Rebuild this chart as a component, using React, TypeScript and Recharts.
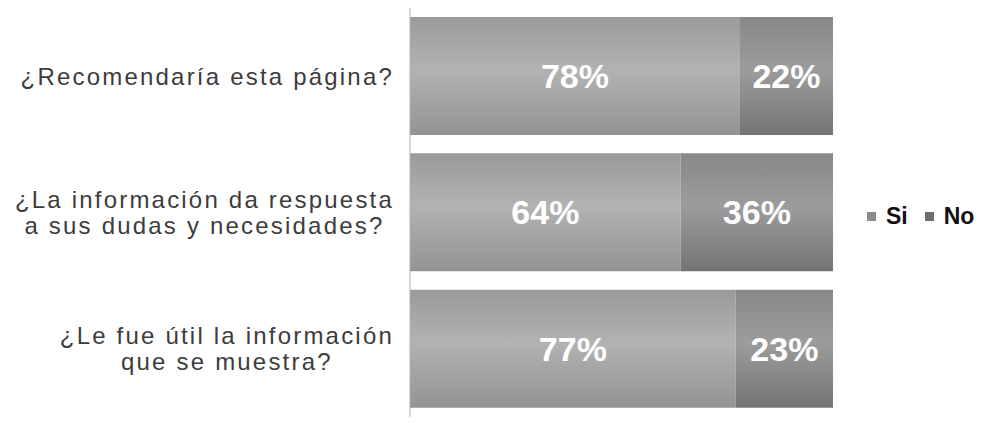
import { BarChart, Bar, XAxis, YAxis, LabelList } from 'recharts';

const categories = [
  '¿Recomendaría esta página?',
  '¿La información da respuesta\na sus dudas y necesidades?',
  '¿Le fue útil la información\nque se muestra?'
];
const siValues = [78, 64, 77];
const noValues = [22, 36, 23];
const seriesNames = ['Si', 'No'];

const data = categories.map((name, i) => ({ name, si: siValues[i], no: noValues[i] }));

const LABEL_FONT = '"Liberation Sans", Arial, sans-serif';
const LETTER_SPACING = 2.2;
const LABEL_SIZE = 24;

let ctx: CanvasRenderingContext2D | null = null;
function textWidth(s: string) {
  if (!ctx) ctx = document.createElement('canvas').getContext('2d');
  if (!ctx) return s.length * 12;
  ctx.font = `${LABEL_SIZE}px ${LABEL_FONT}`;
  return ctx.measureText(s).width + s.length * LETTER_SPACING;
}

function CategoryTick({ x, y, payload }: any) {
  const lines = String(payload.value).split('\n');
  const widths = lines.map(textWidth);
  const maxW = Math.max(...widths);
  const right = x - 8;
  const cx = right - maxW / 2;
  const lineH = 26;
  const start = y - ((lines.length - 1) * lineH) / 2;
  return (
    <g>
      {lines.map((l, i) => (
        <text
          key={i}
          x={cx}
          y={start + i * lineH}
          textAnchor="middle"
          dominantBaseline="central"
          fill="#3c3c3c"
          fontSize={LABEL_SIZE}
          fontFamily={LABEL_FONT}
          letterSpacing={LETTER_SPACING}
        >
          {l}
        </text>
      ))}
    </g>
  );
}

// legend drawn beside the chart, vertically centred like the original
function LegendBox() {
  const colors = ['#8c8c8c', '#6e6e6e'];
  return (
    <div
      style={{
        position: 'absolute',
        left: 867,
        top: 203,
        display: 'flex',
        alignItems: 'center',
        fontFamily: LABEL_FONT,
        fontWeight: 'bold',
        fontSize: 23,
        color: '#111'
      }}
    >
      {seriesNames.map((n, i) => (
        <span key={n} style={{ display: 'flex', alignItems: 'center', marginRight: i === 0 ? 17 : 0 }}>
          <span style={{ width: 9, height: 9, background: colors[i], display: 'inline-block', marginRight: 10 }} />
          {n}
        </span>
      ))}
    </div>
  );
}

const pctLabel = (v: any) => `${v}%`;

export default function App() {
  return (
    <div style={{ position: 'relative', width: 991, height: 423, background: '#fff' }}>
      <style>{'body{margin:0}'}</style>
      <BarChart
        width={991}
        height={423}
        data={data}
        layout="vertical"
        margin={{ top: 8, right: 158, left: 0, bottom: 6 }}
        barCategoryGap={9}
      >
        <defs>
          <linearGradient id="siFill" x1="0" y1="0" x2="0" y2="1">
            <stop offset="0%" stopColor="#9a9a9a" />
            <stop offset="45%" stopColor="#b2b2b2" />
            <stop offset="100%" stopColor="#939393" />
          </linearGradient>
          <linearGradient id="noFill" x1="0" y1="0" x2="0" y2="1">
            <stop offset="0%" stopColor="#888888" />
            <stop offset="45%" stopColor="#9c9c9c" />
            <stop offset="100%" stopColor="#747474" />
          </linearGradient>
        </defs>
        <XAxis type="number" domain={[0, 100]} hide />
        <YAxis
          type="category"
          dataKey="name"
          width={410}
          axisLine={{ stroke: '#b0b0b0' }}
          tickLine={false}
          tick={<CategoryTick />}
          interval={0}
        />
        <Bar dataKey="si" name="Si" stackId="a" fill="url(#siFill)" isAnimationActive={false}>
          <LabelList
            dataKey="si"
            position="center"
            formatter={pctLabel}
            fill="#ffffff"
            fontSize={34}
            fontWeight="bold"
            fontFamily={LABEL_FONT}
          />
        </Bar>
        <Bar dataKey="no" name="No" stackId="a" fill="url(#noFill)" isAnimationActive={false}>
          <LabelList
            dataKey="no"
            position="center"
            formatter={pctLabel}
            fill="#ffffff"
            fontSize={34}
            fontWeight="bold"
            fontFamily={LABEL_FONT}
          />
        </Bar>
      </BarChart>
      <LegendBox />
    </div>
  );
}
